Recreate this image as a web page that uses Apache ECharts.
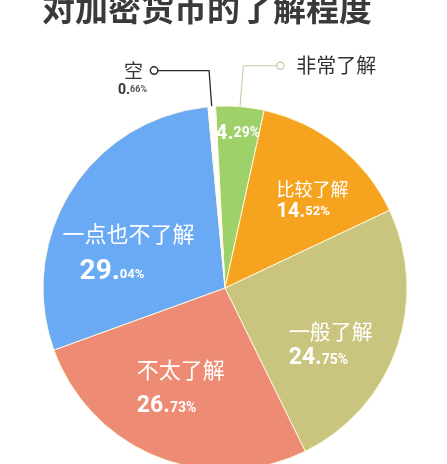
<!DOCTYPE html>
<html>
<head>
<meta charset="utf-8">
<script src="https://cdn.jsdelivr.net/npm/echarts@6/dist/echarts.min.js"></script>
<style>
  html, body { margin: 0; padding: 0; background: #ffffff; }
  #chart { width: 447px; height: 464px; }
</style>
</head>
<body>
<div id="chart"></div>
<script>
// Survey: how well respondents know cryptocurrency (share of answers, %)
const categories = ['非常了解', '比较了解', '一般了解', '不太了解', '一点也不了解', '空'];
const shares = [4.29, 14.52, 24.75, 26.73, 29.04, 0.66];
const chartTitle = '对加密货币的了解程度';

// Styling kept apart from the data
const sliceColors = ['#9fd16b', '#f6a320', '#c9c57f', '#ee8b74', '#6aaaf4', '#ffffff'];
const numFont = "Roboto, 'Liberation Sans', sans-serif";
const cjkFont = "'Noto Sans CJK SC', sans-serif";
const pieStart = 93;

// per-slice inside label look: name font / name line height, big & small number fonts, indent of number line
const insideText = [
  { name: 0,  nameLH: 0,  big: 21, small: 14, indent: 0 },
  { name: 18, nameLH: 20, big: 20, small: 13, indent: 0 },
  { name: 21, nameLH: 29, big: 23, small: 14, indent: 0 },
  { name: 22, nameLH: 47, big: 23, small: 14, indent: 0 },
  { name: 22, nameLH: 44, big: 28, small: 13, indent: 17 },
  null
];
// nudges of the inside labels away from the mid-radius point
const insideShift = [[5, -62], [29, -14], [17, 24], [-9, 7], [-17, 11], null];

function splitValue(v) {
  const parts = v.toFixed(2).split('.');
  return { head: parts[0] + '.', tail: parts[1] + '%' };
}

// rich styles for the inside labels, one set per slice
const insideRich = { ind: { width: 17, align: 'left' } };
insideText.forEach(function (cfg, i) {
  if (!cfg) return;
  if (cfg.name) {
    insideRich['n' + i] = { fontSize: cfg.name, fontFamily: cjkFont, color: '#ffffff', align: 'left', lineHeight: cfg.nameLH };
  }
  insideRich['b' + i] = { fontSize: cfg.big, fontFamily: numFont, fontWeight: 'bold', color: '#ffffff', align: 'left', verticalAlign: 'bottom', lineHeight: cfg.big + 2 };
  insideRich['s' + i] = { fontSize: cfg.small, fontFamily: numFont, fontWeight: 'bold', color: '#ffffff', align: 'left', verticalAlign: 'bottom', lineHeight: cfg.small, padding: [0, 0, Math.round(cfg.big * 0.14), 0] };
});

function insideFormatter(p) {
  const i = p.dataIndex;
  const cfg = insideText[i];
  if (!cfg) return '';
  const v = splitValue(shares[i]);
  let s = '';
  if (cfg.name) s += '{n' + i + '|' + categories[i] + '}\n';
  if (cfg.indent) s += '{ind|}';
  s += '{b' + i + '|' + v.head + '}{s' + i + '|' + v.tail + '}';
  return s;
}

const pieData = categories.map(function (name, i) {
  return { name: name, value: shares[i], itemStyle: { color: sliceColors[i] }, label: { show: !!insideText[i] } };
});

// callout labels for the two thin slices at the top
const calloutRich = {
  dotG: { width: 6, height: 6, borderRadius: 6, borderWidth: 1.2, borderColor: '#c3c7a0', backgroundColor: '#ffffff' },
  dotK: { width: 6, height: 6, borderRadius: 6, borderWidth: 1.5, borderColor: '#2a2a2a', backgroundColor: '#ffffff' },
  gap: { width: 13 },
  gap2: { width: 8 },
  gap3: { width: 10 },
  ph: { height: 16, lineHeight: 16, width: 1 },
  gn: { fontSize: 20, fontFamily: cjkFont, color: '#333333', lineHeight: 22 },
  kn: { fontSize: 19, fontFamily: cjkFont, color: '#333333', lineHeight: 22 },
  kb: { fontSize: 14, fontFamily: numFont, fontWeight: 'bold', color: '#333333', verticalAlign: 'bottom', lineHeight: 16 },
  ks: { fontSize: 9, fontFamily: numFont, fontWeight: 'bold', color: '#555555', verticalAlign: 'bottom', lineHeight: 9, padding: [0, 0, 3, 0] }
};

const calloutData = categories.map(function (name, i) {
  const item = { name: name, value: shares[i] };
  if (i === 0) {
    item.label = { show: true, formatter: '{dotG|}{gap|}{gn|' + name + '}' };
    item.labelLine = { show: true, length: 41, length2: 34, lineStyle: { color: '#c3c7a0', width: 1 } };
  } else if (i === 5) {
    const v = splitValue(shares[i]);
    item.label = { show: true, formatter: '{ph|}\n{kn|' + name + '}{gap2|}{dotK|}\n{kb|' + v.head + '}{ks|' + v.tail + '}{gap3|}' };
    item.labelLine = { show: true, length: 36, length2: 52, lineStyle: { color: '#2a2a2a', width: 1.3 } };
  } else {
    item.label = { show: false };
    item.labelLine = { show: false };
  }
  return item;
});

const chart = echarts.init(document.getElementById('chart'), null, { renderer: 'canvas' });
chart.setOption({
  animation: false,
  backgroundColor: '#ffffff',
  title: {
    text: chartTitle,
    left: 37,
    top: -13,
    textStyle: { fontSize: 33, fontWeight: 'bold', color: '#3a3a3a', fontFamily: cjkFont }
  },
  series: [
    {
      type: 'pie',
      center: [225, 288],
      radius: [0, 182],
      startAngle: pieStart,
      clockwise: true,
      avoidLabelOverlap: false,
      silent: true,
      itemStyle: { borderColor: '#fff8dc', borderWidth: 1 },
      label: { show: true, position: 'inside', formatter: insideFormatter, rich: insideRich },
      labelLine: { show: false },
      labelLayout: function (p) {
        const s = insideShift[p.dataIndex];
        return s ? { dx: s[0], dy: s[1] } : {};
      },
      data: pieData
    },
    {
      type: 'pie',
      center: [225, 288],
      radius: [0, 182],
      startAngle: pieStart,
      clockwise: true,
      avoidLabelOverlap: false,
      silent: true,
      itemStyle: { color: 'rgba(0,0,0,0)', borderWidth: 0 },
      label: { position: 'outside', distanceToLabelLine: 0, rich: calloutRich },
      data: calloutData
    }
  ]
});
</script>
</body>
</html>
